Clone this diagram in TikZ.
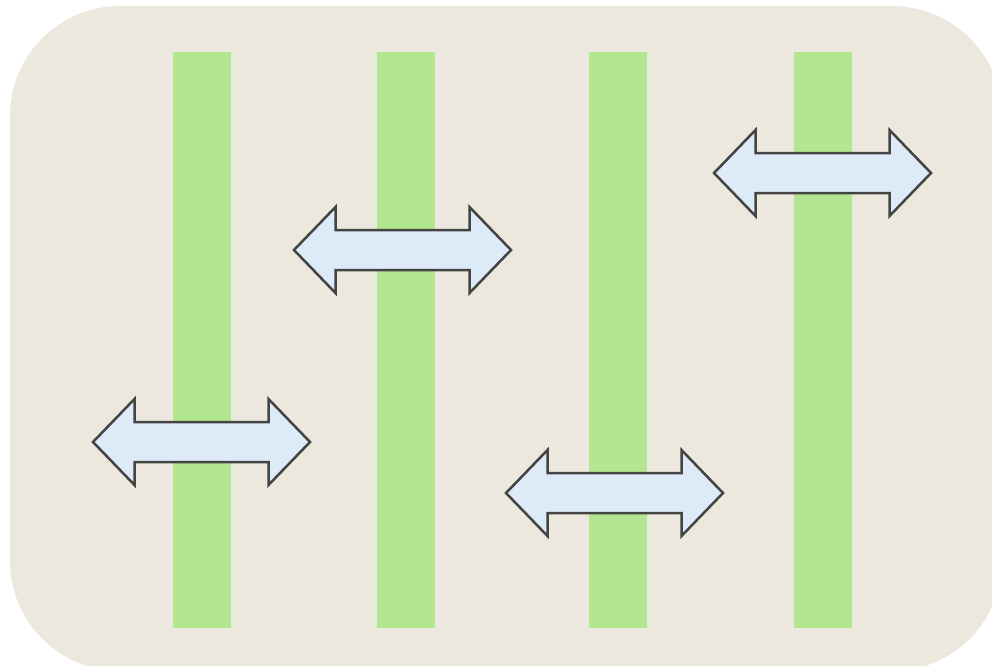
\documentclass[tikz,border=0pt]{standalone}
\usetikzlibrary{positioning}
\definecolor{bgbeige}{HTML}{EDE8DD}
\definecolor{bargreen}{HTML}{B2E690}
\definecolor{arrfill}{HTML}{DDEAF8}
\definecolor{arrline}{HTML}{444444}
\tikzset{
  barstyle/.style={fill=bargreen, draw=none},
  arrowstyle/.style={fill=arrfill, draw=arrline, line width=2.5pt, line join=miter},
  darr/.pic={
    \draw[arrowstyle] (-108.5,0) -- (-67,43) -- (-67,20) -- (67,20) -- (67,43) -- (108.5,0)
      -- (67,-43) -- (67,-20) -- (-67,-20) -- (-67,-43) -- cycle;
  }
}
\begin{document}
\begin{tikzpicture}[x=1pt,y=-1pt]
\useasboundingbox (0,0) rectangle (992,665);
\begin{scope}
\clip (0,0) rectangle (992,665);
\fill[bgbeige, rounded corners=110pt] (10,6) rectangle (1002,671);
\end{scope}
\fill[barstyle] (173,52) rectangle (231,628);
\fill[barstyle] (377,52) rectangle (435,628);
\fill[barstyle] (589,52) rectangle (647,628);
\fill[barstyle] (794,52) rectangle (852,628);
\pic (a1) at (201.5,442) {darr};
\pic (a2) at (402.5,250) {darr};
\pic (a3) at (614.5,493) {darr};
\pic (a4) at (822.5,173) {darr};
\end{tikzpicture}
\end{document}
